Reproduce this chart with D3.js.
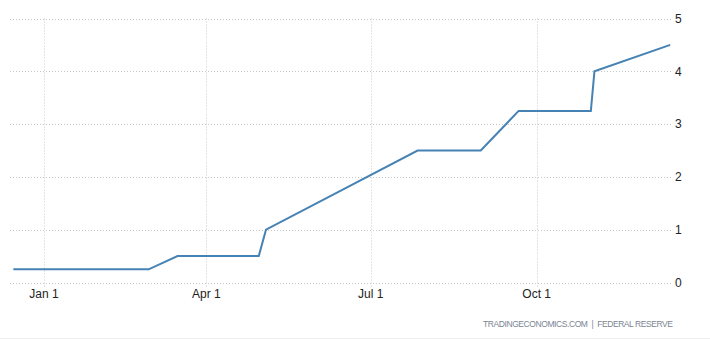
<!DOCTYPE html>
<html>
<head>
<meta charset="utf-8">
<script src="https://cdn.jsdelivr.net/npm/d3@7.9.0/dist/d3.min.js"></script>
<style>
  body { margin: 0; background: #fff; }
  svg { display: block; font-family: "Liberation Sans", Arial, sans-serif; }
</style>
</head>
<body>
<div id="chart"></div>
<script>
// Fed funds rate (upper bound), data points
const dates = ['2021-12-15', '2022-01-26', '2022-02-28', '2022-03-16', '2022-04-30', '2022-05-04',
  '2022-06-15', '2022-07-27', '2022-08-31', '2022-09-21', '2022-10-31', '2022-11-02', '2022-12-14'];
const rates = [0.25, 0.25, 0.25, 0.5, 0.5, 1.0, 1.75, 2.5, 2.5, 3.25, 3.25, 4.0, 4.5];
const xTicks = ['2022-01-01', '2022-04-01', '2022-07-01', '2022-10-01'];
const yTicks = [0, 1, 2, 3, 4, 5];
const source = 'TRADINGECONOMICS.COM  |  FEDERAL RESERVE';

const width = 710;
const height = 342;
const parse = d3.timeParse('%Y-%m-%d');
const data = dates.map((d, i) => ({ date: parse(d), value: rates[i] }));

const svg = d3.select('#chart').append('svg')
  .attr('width', width)
  .attr('height', height);

const xScale = d3.scaleTime()
  .domain([parse('2022-01-01'), parse('2022-10-01')])
  .range([44, 536.7]);

const yScale = d3.scaleLinear()
  .domain([0, 5])
  .range([282.5, 18.5]);

// horizontal gridlines
svg.append('g')
  .selectAll('line')
  .data(yTicks)
  .join('line')
  .attr('x1', 10)
  .attr('x2', 672)
  .attr('y1', d => Math.round(yScale(d)) + 0.5)
  .attr('y2', d => Math.round(yScale(d)) + 0.5)
  .attr('stroke', '#c8c8c8')
  .attr('stroke-dasharray', '1,2');

// vertical gridlines
svg.append('g')
  .selectAll('line')
  .data(xTicks)
  .join('line')
  .attr('x1', d => Math.round(xScale(parse(d))) + 0.5)
  .attr('x2', d => Math.round(xScale(parse(d))) + 0.5)
  .attr('y1', yScale(5))
  .attr('y2', 287)
  .attr('stroke', '#c8c8c8')
  .attr('stroke-dasharray', '1,2');

// x labels
svg.append('g')
  .selectAll('text')
  .data(xTicks)
  .join('text')
  .attr('x', d => xScale(parse(d)))
  .attr('y', 298)
  .attr('text-anchor', 'middle')
  .attr('font-size', 12)
  .attr('fill', '#222')
  .text(d => d3.timeFormat('%b %-d')(parse(d)));

// y labels (right side)
svg.append('g')
  .selectAll('text')
  .data(yTicks)
  .join('text')
  .attr('x', 675)
  .attr('y', d => yScale(d))
  .attr('dy', '0.35em')
  .attr('font-size', 12)
  .attr('fill', '#222')
  .text(d => d);

// the line
const line = d3.line()
  .x(d => xScale(d.date))
  .y(d => yScale(d.value));

svg.append('path')
  .datum(data)
  .attr('d', line)
  .attr('fill', 'none')
  .attr('stroke', '#4682b4')
  .attr('stroke-width', 2)
  .attr('stroke-linejoin', 'miter');

// source
svg.append('text')
  .attr('x', 673)
  .attr('y', 327)
  .attr('text-anchor', 'end')
  .attr('font-size', 8.5)
  .attr('fill', '#7a8594')
  .attr('textLength', 190)
  .attr('lengthAdjust', 'spacing')
  .style('white-space', 'pre')
  .text(source);

// bottom border
svg.append('line')
  .attr('x1', 0)
  .attr('x2', width)
  .attr('y1', 338.5)
  .attr('y2', 338.5)
  .attr('stroke', '#eeeeee');
</script>
</body>
</html>
